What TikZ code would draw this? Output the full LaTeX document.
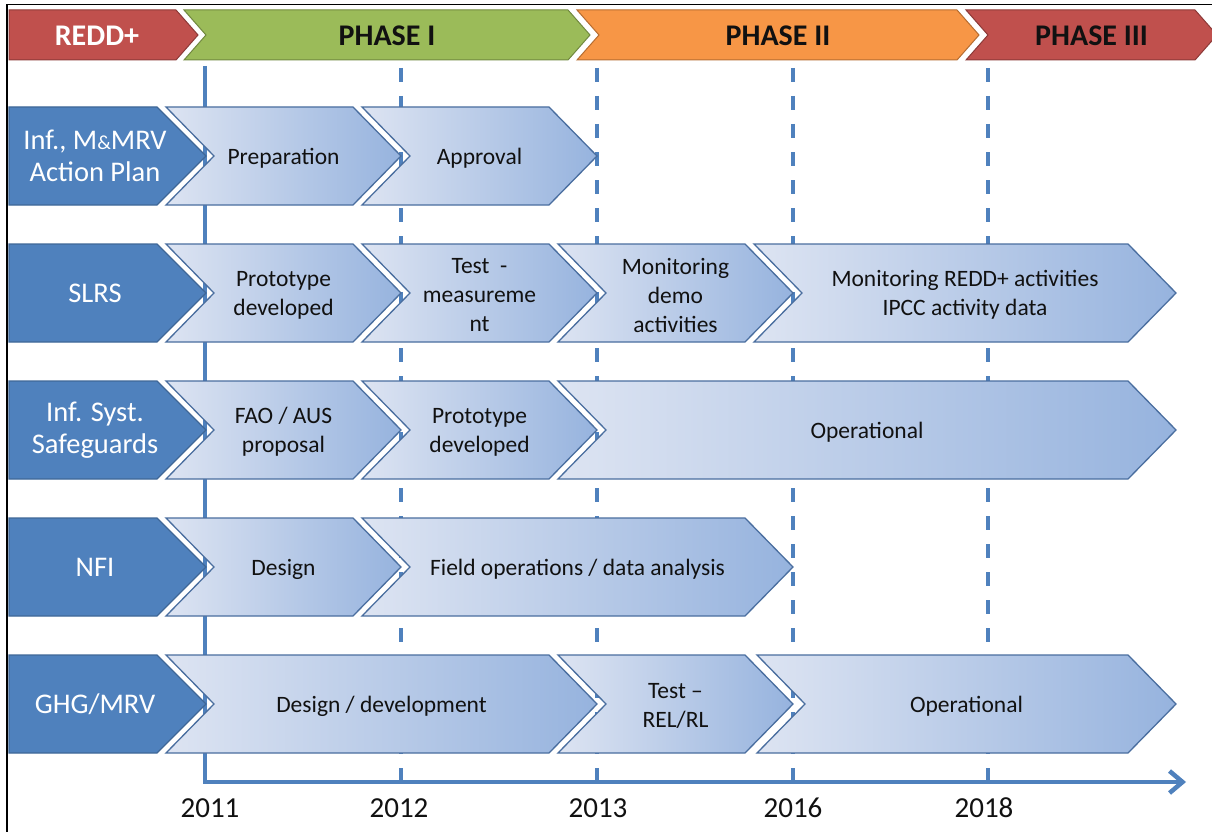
\documentclass[tikz,border=0pt]{standalone}
\usepackage{fontspec}
\setmainfont{Carlito}
\usetikzlibrary{arrows.meta}
\definecolor{hdrRed}{HTML}{C0504D}
\definecolor{hdrRedLine}{HTML}{8C3A38}
\definecolor{hdrGreen}{HTML}{9BBB59}
\definecolor{hdrGreenLine}{HTML}{71893F}
\definecolor{hdrOrange}{HTML}{F79646}
\definecolor{hdrOrangeLine}{HTML}{B66D31}
\definecolor{lblBlue}{HTML}{4F81BD}
\definecolor{lblLine}{HTML}{3F6797}
\definecolor{actL}{HTML}{DDE4F2}
\definecolor{actR}{HTML}{96B3DE}
\definecolor{actLine}{HTML}{4A6E9F}
\definecolor{gridBlue}{HTML}{4F81BD}
\definecolor{txtDark}{HTML}{111111}
\tikzset{
  hdrtext/.style={font=\fontsize{30}{32}\selectfont\bfseries, text=txtDark},
  lbltext/.style={font=\fontsize{28.5}{32}\selectfont, text=white, align=center},
  acttext/.style={font=\fontsize{23.5}{29}\selectfont, text=txtDark, align=center, yshift=-2pt},
  yeartext/.style={font=\fontsize{29}{32}\selectfont, text=txtDark},
  actshape/.style={draw=actLine, line width=1.3pt, left color=actL, right color=actR},
  lblshape/.style={draw=lblLine, line width=1.3pt, fill=lblBlue},
  gridsolid/.style={draw=gridBlue, line width=3.8pt},
  griddash/.style={draw=gridBlue, line width=3.8pt, dash pattern=on 14pt off 14pt, dash phase=-2pt},
  border/.style={draw=black, line width=1.6pt}
}
% header chevron: name, top-left x, tip x, fill, line, text, text colour
\newcommand{\hdrchev}[7]{%
  \path[draw=#5, line width=1pt, fill=#4] (#2,10) -- (#3-22,10) -- (#3,35) -- (#3-22,60) -- (#2,60) -- (#2+22,35) -- cycle;
  \node[hdrtext, text=#7] (#1) at ({(#2+#3)/2},36) {#6};
}
% label chevron: name, centre y, text
\newcommand{\lblchev}[3]{%
  \path[lblshape] (9,#2-49) -- (157,#2-49) -- (206,#2) -- (157,#2+49) -- (9,#2+49) -- cycle;
  \node[lbltext] (#1) at (95,#2) {#3};
}
% activity chevron: name, top-left x, tip x, centre y, text
\newcommand{\actchev}[5]{%
  \path[actshape] (#2,#4-49) -- (#3-48,#4-49) -- (#3,#4) -- (#3-48,#4+49) -- (#2,#4+49) -- (#2+48,#4) -- cycle;
  \node[acttext] (#1) at ({(#2+#3)/2},#4) {#5};
}
\begin{document}
\begin{tikzpicture}[x=1pt,y=-1pt]
\useasboundingbox (0,0) rectangle (1212,832);
\clip (0,0) rectangle (1212,832);
\fill[white] (0,0) rectangle (1212,832);
% frame
\draw[border] (6.7,840) -- (6.7,4.7) -- (1220,4.7);

% time grid
\coordinate (t2011) at (205,66);  \coordinate (b2011) at (205,782);
\coordinate (t2012) at (401,66);  \coordinate (b2012) at (401,782);
\coordinate (t2013) at (597,66);  \coordinate (b2013) at (597,782);
\coordinate (t2016) at (793,66);  \coordinate (b2016) at (793,782);
\coordinate (t2018) at (988,66);  \coordinate (b2018) at (988,782);
\coordinate (axend) at (1186,782);
\draw[griddash] (t2012) -- (b2012);
\draw[griddash] (t2013) -- (b2013);
\draw[griddash] (t2016) -- (b2016);
\draw[griddash] (t2018) -- (b2018);
\draw[gridsolid, -{Straight Barb[length=13pt,width=22pt,line width=4.5pt]}] (t2011) -- (b2011) -- (axend);

% header
\path[draw=hdrRedLine, line width=1pt, fill=hdrRed] (9,10) -- (176,10) -- (198,35) -- (176,60) -- (9,60) -- cycle;
\node[hdrtext, text=white] (redd) at (97,36) {REDD+};
\hdrchev{ph1}{184}{590}{hdrGreen}{hdrGreenLine}{PHASE I}{txtDark}
\hdrchev{ph2}{577}{979}{hdrOrange}{hdrOrangeLine}{PHASE II}{txtDark}
\hdrchev{ph3}{966}{1217}{hdrRed}{hdrRedLine}{PHASE III}{txtDark}

% row labels
\lblchev{lab1}{156}{Inf., M{\fontsize{20}{20}\selectfont\&}MRV\\Action Plan}
\lblchev{lab2}{293}{SLRS}
\lblchev{lab3}{430}{Inf. Syst.\\Safeguards}
\lblchev{lab4}{567}{NFI}
\lblchev{lab5}{704}{GHG/MRV}

% row 1
\actchev{a11}{166}{401}{156}{Preparation}
\actchev{a12}{362}{597}{156}{Approval}
% row 2
\actchev{a21}{166}{401}{293}{Prototype\\developed}
\actchev{a22}{362}{597}{293}{Test\ \ -\\measureme\\nt}
\actchev{a23}{558}{793}{293}{Monitoring\\demo\\activities}
\actchev{a24}{754}{1176}{293}{Monitoring REDD+ activities\\IPCC activity data}
% row 3
\actchev{a31}{166}{401}{430}{FAO / AUS\\proposal}
\actchev{a32}{362}{597}{430}{Prototype\\developed}
\actchev{a33}{558}{1176}{430}{Operational}
% row 4
\actchev{a41}{166}{401}{567}{Design}
\actchev{a42}{362}{793}{567}{Field operations / data analysis}
% row 5
\actchev{a51}{166}{597}{704}{Design / development}
\actchev{a52}{558}{793}{704}{Test –\\REL/RL}
\actchev{a53}{757}{1176}{704}{Operational}

% years
\node[yeartext] (y2011) at (210,808) {2011};
\node[yeartext] (y2012) at (399,808) {2012};
\node[yeartext] (y2013) at (598,808) {2013};
\node[yeartext] (y2016) at (793,808) {2016};
\node[yeartext] (y2018) at (984,808) {2018};
\end{tikzpicture}
\end{document}
